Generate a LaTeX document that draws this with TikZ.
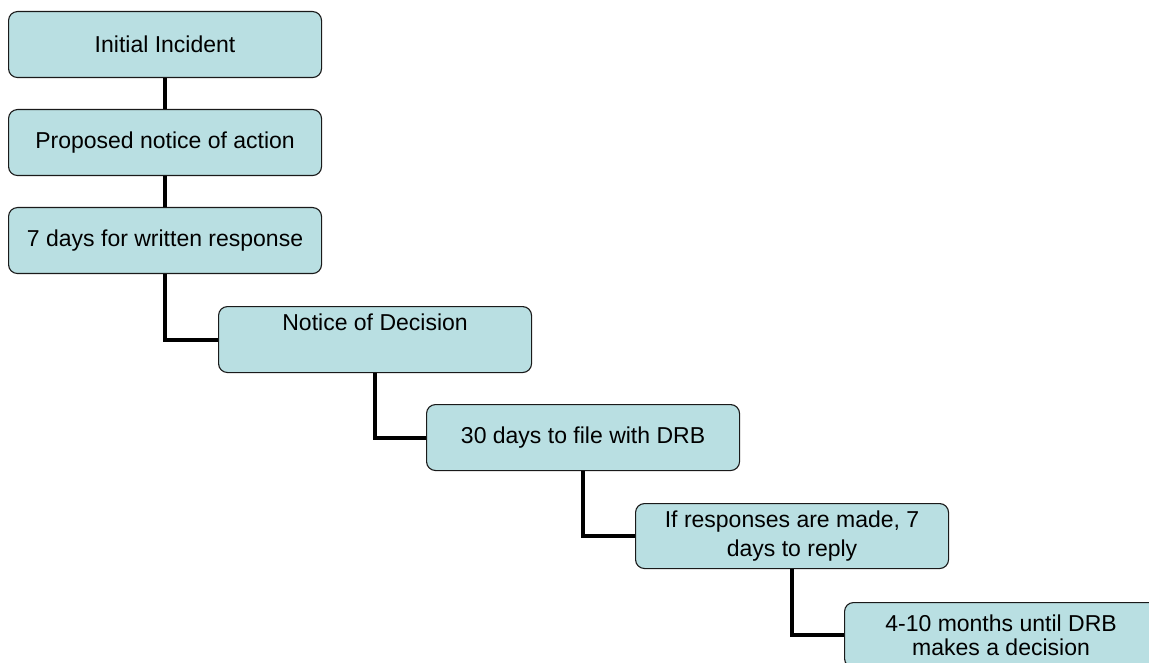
\documentclass[tikz,border=0pt]{standalone}
\usepackage{fontspec}
\setmainfont{Liberation Sans}
\definecolor{boxfill}{HTML}{B9DFE2}
\definecolor{boxline}{HTML}{1A1A1A}
\tikzset{
  box/.style={draw=boxline, line width=1.1pt, fill=boxfill, rounded corners=9pt,
    minimum width=313pt, minimum height=66pt, inner sep=0pt, align=center,
    font=\fontsize{23}{28.5}\selectfont, anchor=north west},
  conn/.style={line width=4pt, draw=black}
}
\begin{document}
\begin{tikzpicture}[x=1pt,y=-1pt]
\useasboundingbox (0,0) rectangle (1149,663);
\clip (0,0) rectangle (1149,663);
\node[box] (b1) at (8,11) {Initial Incident};
\node[box] (b2) at (8,109) {Proposed notice of action};
\node[box] (b3) at (8,207) {7 days for written response};
\node[box] (b4) at (218,306) {Notice of Decision\\[-3pt]\strut};
\node[box] (b5) at (426,404) {30 days to file with DRB};
\node[box, minimum height=65pt] (b6) at (635,503) {If responses are made, 7\\days to reply};
\node[box, minimum height=65pt] (b7) at (844,602) {4-10 months until DRB\\[-4.5pt]makes a decision};
\draw[conn] (b1.south) -- (b2.north);
\draw[conn] (b2.south) -- (b3.north);
\draw[conn] (b3.south) |- (b4.west);
\draw[conn] (b4.south) |- (b5.west);
\draw[conn] (b5.south) |- (b6.west);
\draw[conn] (b6.south) |- (b7.west);
\end{tikzpicture}
\end{document}
